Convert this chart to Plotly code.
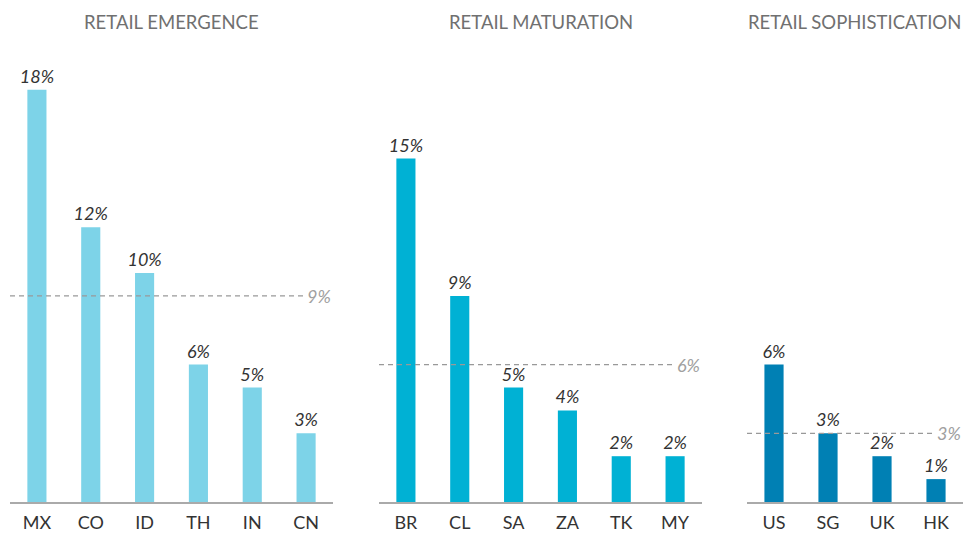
import plotly.graph_objects as go

titles = ["RETAIL EMERGENCE", "RETAIL MATURATION", "RETAIL SOPHISTICATION"]
cats1 = ["MX", "CO", "ID", "TH", "IN", "CN"]
vals1 = [18, 12, 10, 6, 5, 3]
avg1 = 9
cats2 = ["BR", "CL", "SA", "ZA", "TK", "MY"]
vals2 = [15, 9, 5, 4, 2, 2]
avg2 = 6
cats3 = ["US", "SG", "UK", "HK"]
vals3 = [6, 3, 2, 1]
avg3 = 3
colors = ["#7DD3E8", "#00B1D4", "#0080B4"]

W, H = 963, 535
domains_px = [(10, 333), (379, 702), (747, 963)]
title_centers_px = [171.5, 540.5, 854]

fig = go.Figure()
panels = [(cats1, vals1, avg1), (cats2, vals2, avg2), (cats3, vals3, avg3)]
font_main = "Lato, 'Open Sans', sans-serif"

for i, ((cats, vals, avg), (x0, x1)) in enumerate(zip(panels, domains_px)):
    n = i + 1
    xa = "x" if n == 1 else f"x{n}"
    ya = "y" if n == 1 else f"y{n}"
    fig.add_trace(go.Bar(
        x=cats, y=vals, xaxis=xa, yaxis=ya,
        marker=dict(color=colors[i], line=dict(width=0)),
        text=[f"{v}%" for v in vals], textposition="outside", constraintext="none",
        textfont=dict(family=font_main, size=18, color="#333333", style="italic"),
        cliponaxis=False, width=0.355, showlegend=False, hoverinfo="skip",
    ))
    dom = [x0 / W, x1 / W]
    width_px = x1 - x0
    fig.update_layout({
        ("xaxis" if n == 1 else f"xaxis{n}"): dict(
            domain=dom, anchor=ya, type="category", showgrid=False, zeroline=False,
            showline=True, linecolor="#AAAAAA", linewidth=1.5, ticks="",
            ticklabelstandoff=4,
            tickfont=dict(family=font_main, size=18, color="#333333"),
            fixedrange=True,
        ),
        ("yaxis" if n == 1 else f"yaxis{n}"): dict(
            anchor=xa, range=[0, 20], visible=False, fixedrange=True,
        ),
    })
    lbl_px = 28
    fig.add_shape(type="line", xref=f"{xa} domain", yref=ya,
                  x0=0, x1=1 - lbl_px / width_px, y0=avg, y1=avg,
                  line=dict(color="#999999", width=1.2, dash="5px,4px"), layer="above")
    fig.add_annotation(xref=f"{xa} domain", yref=ya, x=1, y=avg,
                       xanchor="right", yanchor="middle", showarrow=False,
                       text=f"{avg}%", xshift=0,
                       font=dict(family=font_main, size=18, color="#A0A0A0", style="italic"))
    fig.add_annotation(xref="paper", yref="paper", x=title_centers_px[i] / W, y=1,
                       xanchor="center", yanchor="middle", yshift=22,
                       showarrow=False, text=titles[i],
                       font=dict(family=font_main, size=18.5, color="#707070"))

fig.update_layout(
    width=W, height=H, margin=dict(l=0, r=0, t=44, b=33),
    paper_bgcolor="white", plot_bgcolor="white", bargap=0.645,
)
fig.write_html("out.html", config={"displayModeBar": False},
               post_script="document.body.style.margin='0';document.body.style.overflow='hidden';")
